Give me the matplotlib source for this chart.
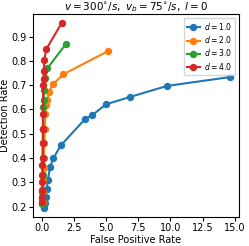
import matplotlib
matplotlib.use('Agg')
import matplotlib.pyplot as plt

# ROC points (false positive rate, detection rate) per d
labels = ['$d = 1.0$', '$d = 2.0$', '$d = 3.0$', '$d = 4.0$']

fpr_d1 = [0.2, 0.28, 0.33, 0.4, 0.5, 0.65, 0.92, 1.5, 3.4, 3.9, 5.0, 6.9, 9.75, 14.6]
det_d1 = [0.195, 0.213, 0.24, 0.273, 0.31, 0.362, 0.40, 0.452, 0.562, 0.575, 0.621, 0.652, 0.697, 0.733]

fpr_d2 = [0.08, 0.1, 0.12, 0.15, 0.18, 0.22, 0.26, 0.3, 0.38, 0.45, 0.55, 0.9, 1.7, 5.15]
det_d2 = [0.22, 0.26, 0.31, 0.36, 0.40, 0.46, 0.52, 0.58, 0.62, 0.64, 0.67, 0.705, 0.745, 0.84]

fpr_d3 = [0.05, 0.06, 0.07, 0.08, 0.09, 0.1, 0.12, 0.14, 0.17, 0.2, 0.25, 0.45, 1.9]
det_d3 = [0.21, 0.23, 0.26, 0.33, 0.40, 0.46, 0.52, 0.61, 0.64, 0.68, 0.73, 0.77, 0.87]

fpr_d4 = [0.05, 0.05, 0.06, 0.06, 0.07, 0.07, 0.08, 0.09, 0.1, 0.1, 0.12, 0.15, 0.17, 0.2, 0.38, 1.55]
det_d4 = [0.22, 0.24, 0.27, 0.30, 0.33, 0.37, 0.40, 0.46, 0.52, 0.58, 0.70, 0.725, 0.76, 0.805, 0.85, 0.955]

fig = plt.figure(figsize=(2.49, 2.46), dpi=100)
ax = fig.add_axes([0.132, 0.118, 0.828, 0.825])

for x, y, lab in zip([fpr_d1, fpr_d2, fpr_d3, fpr_d4],
                     [det_d1, det_d2, det_d3, det_d4], labels):
    ax.plot(x, y, marker='o', markersize=4.3, linewidth=1.5, label=lab)

ax.set_xticks([0, 2.5, 5, 7.5, 10, 12.5, 15])
ax.set_yticks([0.2, 0.3, 0.4, 0.5, 0.6, 0.7, 0.8, 0.9])
ax.tick_params(labelsize=7, length=3, pad=1.5)
ax.set_xlabel('False Positive Rate', fontsize=7, labelpad=1)
ax.set_ylabel('Detection Rate', fontsize=7, labelpad=1)
ax.set_title(r'$v = 300^{\circ}/s,\ v_b = 75^{\circ}/s,\ l = 0$', fontsize=7.5, pad=3)
ax.legend(fontsize=5.5, loc='upper right', handlelength=1.7, borderpad=0.4,
          labelspacing=0.3, handletextpad=0.6)

fig.savefig('out.png', dpi=100)
